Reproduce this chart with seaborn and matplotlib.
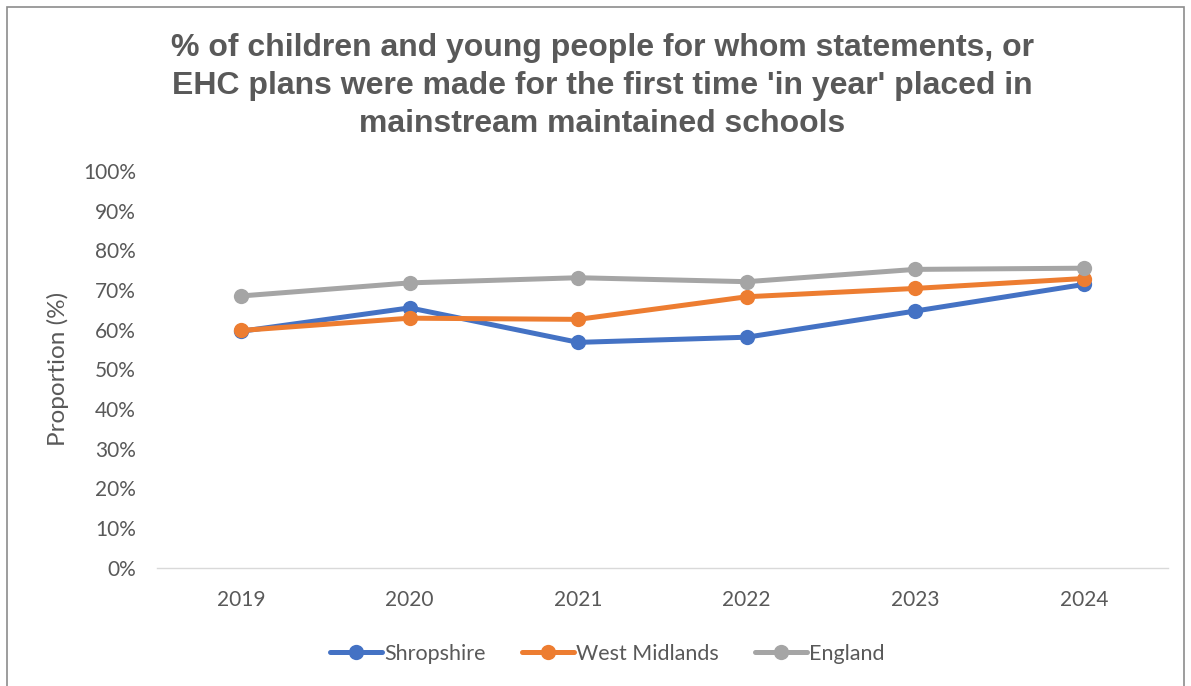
import pandas as pd
import seaborn as sns
import matplotlib.pyplot as plt
from matplotlib.patches import Rectangle
from matplotlib.ticker import PercentFormatter

# --- data ---
years = ['2019', '2020', '2021', '2022', '2023', '2024']
shropshire = [59.6, 65.5, 56.8, 58.1, 64.7, 71.4]
west_midlands = [59.8, 62.9, 62.6, 68.3, 70.4, 72.9]
england = [68.5, 71.8, 73.1, 72.1, 75.2, 75.5]

series_names = ['Shropshire', 'West Midlands', 'England']
palette = {'Shropshire': '#4472C4', 'West Midlands': '#ED7D31', 'England': '#A5A5A5'}

df = pd.DataFrame({
    'year': years * 3,
    'value': shropshire + west_midlands + england,
    'area': [n for n in series_names for _ in years],
})

sns.set_style('white')
plt.rcParams['font.family'] = ['Lato', 'DejaVu Sans']
TXT = '#595959'

fig = plt.figure(figsize=(11.91, 6.86), dpi=100)
ax = fig.add_axes([0.1318, 0.1725, 0.8489, 0.5782])

sns.lineplot(data=df, x='year', y='value', hue='area', hue_order=series_names,
             palette=palette, marker='o', markersize=11, markeredgewidth=0,
             linewidth=3.6, ax=ax, legend=True)

ax.set_ylim(0, 100)
ax.set_xlim(-0.5, len(years) - 0.5)
ax.set_yticks(range(0, 101, 10))
ax.yaxis.set_major_formatter(PercentFormatter(decimals=0))
ax.tick_params(axis='both', length=0, labelsize=15, colors=TXT)
ax.tick_params(axis='x', pad=16)
ax.tick_params(axis='y', pad=15)
ax.set_xlabel('')
ax.set_ylabel('Proportion (%)', fontsize=17.5, color=TXT, labelpad=10)

for side in ['top', 'right', 'left']:
    ax.spines[side].set_visible(False)
ax.spines['bottom'].set_color('#D9D9D9')
ax.spines['bottom'].set_linewidth(1)

handles, labels = ax.get_legend_handles_labels()
ax.legend_.remove()
fig.legend(handles, labels, loc='center', bbox_to_anchor=(0.51, 0.047), ncol=3,
           frameon=False, fontsize=15.5, handlelength=2.4, handletextpad=0.1,
           columnspacing=1.7, labelcolor=TXT)

fig.text(0.5055, 0.875,
         "% of children and young people for whom statements, or\n"
         "EHC plans were made for the first time 'in year' placed in\n"
         "mainstream maintained schools",
         ha='center', va='center', fontsize=23, fontweight='bold', color=TXT,
         family=['Liberation Sans', 'DejaVu Sans'], linespacing=1.34)

# chart border
fig.patches.append(Rectangle((0.006, -0.01), 0.988, 1.0, transform=fig.transFigure,
                             fill=False, edgecolor='#8C8C8C', linewidth=1.2))

plt.savefig('out.png', dpi=100)
